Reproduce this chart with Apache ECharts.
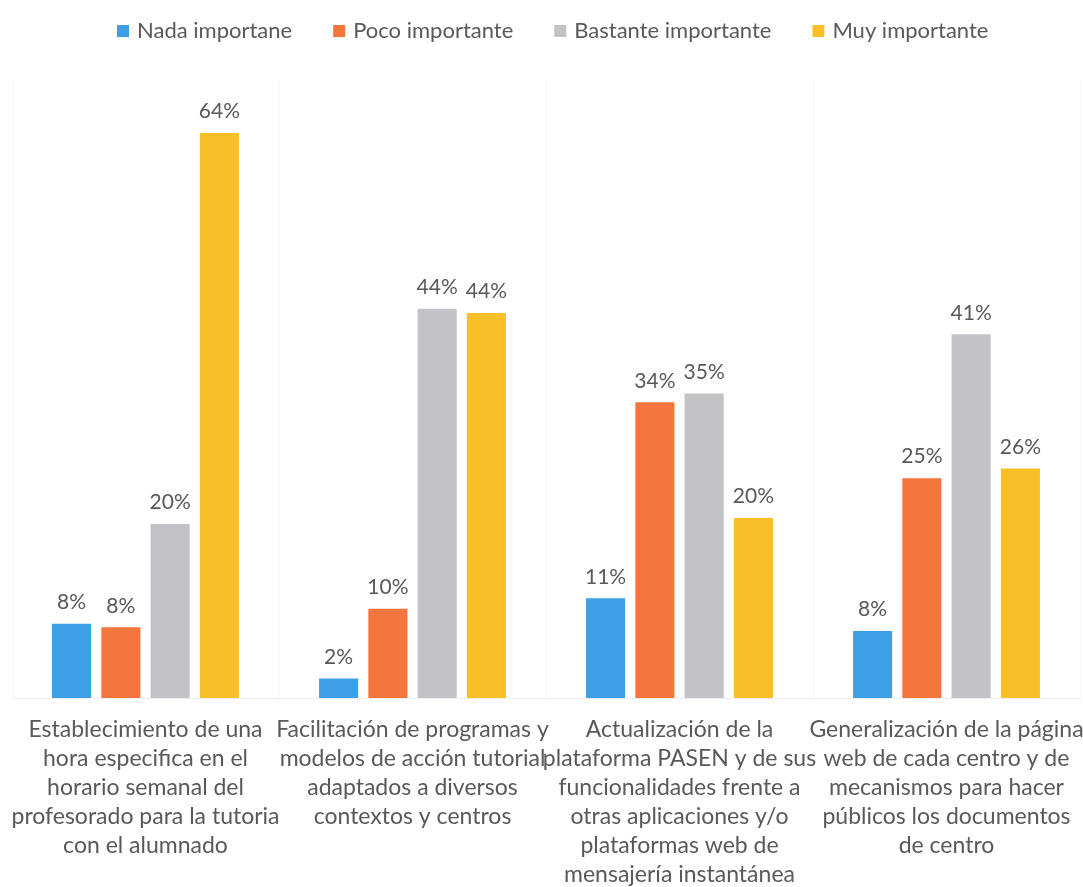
<!DOCTYPE html>
<html>
<head>
<meta charset="utf-8">
<script src="https://cdn.jsdelivr.net/npm/echarts@6/dist/echarts.min.js"></script>
<style>html,body{margin:0;padding:0;background:#fff}#c{width:1083px;height:887px}</style>
</head>
<body>
<div id="c"></div>
<script>
const categories = [
  "Establecimiento de una\nhora especifica en el\nhorario semanal del\nprofesorado para la tutoria\ncon el alumnado",
  "Facilitación de programas y\nmodelos de acción tutorial\nadaptados a diversos\ncontextos y centros",
  "Actualización de la\nplataforma PASEN y de sus\nfuncionalidades frente a\notras aplicaciones y/o\nplataformas web de\nmensajería instantánea",
  "Generalización de la página\nweb de cada centro y de\nmecanismos para hacer\npúblicos los documentos\nde centro"
];
const seriesNames = ["Nada importane", "Poco importante", "Bastante importante", "Muy importante"];
const nada = [8.4, 2.2, 11.3, 7.6];
const poco = [8.0, 10.1, 33.5, 24.9];
const bastante = [19.7, 44.1, 34.5, 41.2];
const muy = [64.0, 43.6, 20.4, 26.0];
const colors = ["#3d9fe6", "#f5763c", "#c2c2c7", "#f9bf26"];

const font = "Lato, 'Open Sans', sans-serif";
const chart = echarts.init(document.getElementById('c'));
const mk = (name, data, i) => ({
  name, type: 'bar', data,
  itemStyle: { color: colors[i] },
  barGap: '26%', barCategoryGap: '30%',
  label: { show: true, position: 'top', distance: 11, color: '#595959', fontSize: 21, fontFamily: font,
           formatter: p => Math.round(p.value) + '%' }
});
chart.setOption({
  animation: false,
  legend: {
    top: 15, left: 112, itemWidth: 12, itemHeight: 12, itemGap: 41, icon: 'rect',
    textStyle: { color: '#595959', fontSize: 22, fontFamily: font, padding: [0, 0, 0, 3] }
  },
  grid: { left: 12, right: 3, top: 80, bottom: 189, containLabel: false, outerBoundsMode: 'none' },
  xAxis: {
    type: 'category', data: categories,
    axisTick: { show: false },
    axisLine: { show: true, lineStyle: { color: '#eeeeee' } },
    splitLine: { show: true, lineStyle: { color: '#f5f5f5' } },
    axisLabel: { color: '#595959', fontSize: 23, fontFamily: font, lineHeight: 29, margin: 17, interval: 0 }
  },
  yAxis: { type: 'value', min: 0, max: 70, show: false, splitLine: { show: false } },
  series: [mk(seriesNames[0], nada, 0), mk(seriesNames[1], poco, 1), mk(seriesNames[2], bastante, 2), mk(seriesNames[3], muy, 3)]
});
</script>
</body>
</html>
